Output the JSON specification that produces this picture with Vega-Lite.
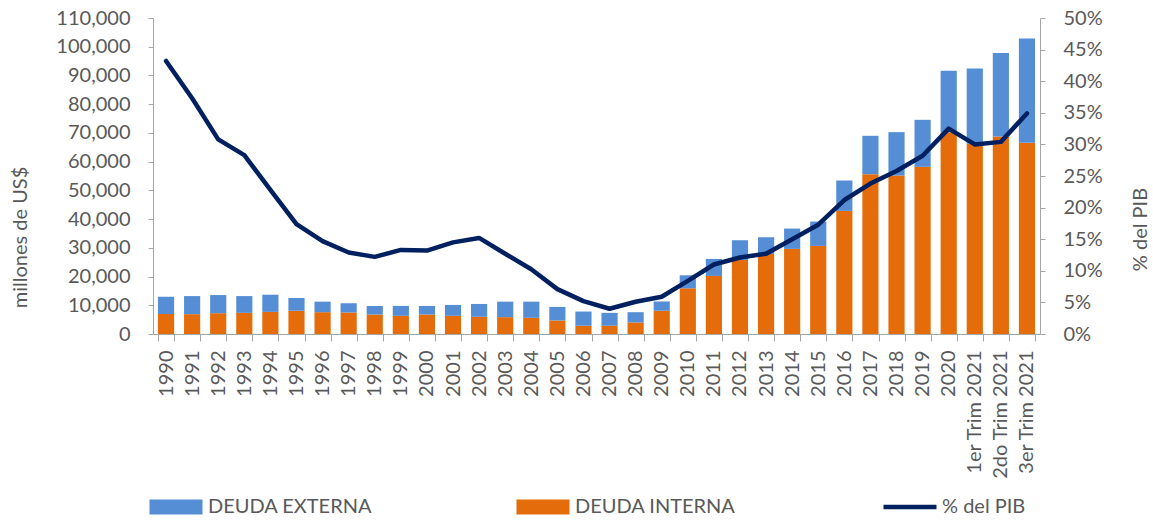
{
  "$schema": "https://vega.github.io/schema/vega-lite/v6.json",
  "width": 887,
  "height": 316,
  "autosize": {"type": "none"},
  "padding": {"left": 153, "top": 18, "right": 113, "bottom": 187},
  "config": {
    "font": "Lato",
    "view": {"stroke": null},
    "axis": {
      "labelFont": "Lato",
      "titleFont": "Lato",
      "labelColor": "#595959",
      "titleColor": "#595959",
      "labelFontSize": 20,
      "titleFontSize": 20,
      "titleFontWeight": "normal",
      "domainColor": "#A6A6A6",
      "tickColor": "#A6A6A6",
      "grid": false
    }
  },
  "datasets": {
    "deuda": [
      {"periodo": "1990", "serie": "DEUDA INTERNA", "valor": 7000}, {"periodo": "1990", "serie": "DEUDA EXTERNA", "valor": 6000},
      {"periodo": "1991", "serie": "DEUDA INTERNA", "valor": 6900}, {"periodo": "1991", "serie": "DEUDA EXTERNA", "valor": 6300},
      {"periodo": "1992", "serie": "DEUDA INTERNA", "valor": 7240}, {"periodo": "1992", "serie": "DEUDA EXTERNA", "valor": 6320},
      {"periodo": "1993", "serie": "DEUDA INTERNA", "valor": 7360}, {"periodo": "1993", "serie": "DEUDA EXTERNA", "valor": 5840},
      {"periodo": "1994", "serie": "DEUDA INTERNA", "valor": 7700}, {"periodo": "1994", "serie": "DEUDA EXTERNA", "valor": 5980},
      {"periodo": "1995", "serie": "DEUDA INTERNA", "valor": 8050}, {"periodo": "1995", "serie": "DEUDA EXTERNA", "valor": 4480},
      {"periodo": "1996", "serie": "DEUDA INTERNA", "valor": 7590}, {"periodo": "1996", "serie": "DEUDA EXTERNA", "valor": 3670},
      {"periodo": "1997", "serie": "DEUDA INTERNA", "valor": 7470}, {"periodo": "1997", "serie": "DEUDA EXTERNA", "valor": 3220},
      {"periodo": "1998", "serie": "DEUDA INTERNA", "valor": 6780}, {"periodo": "1998", "serie": "DEUDA EXTERNA", "valor": 2990},
      {"periodo": "1999", "serie": "DEUDA INTERNA", "valor": 6320}, {"periodo": "1999", "serie": "DEUDA EXTERNA", "valor": 3450},
      {"periodo": "2000", "serie": "DEUDA INTERNA", "valor": 6780}, {"periodo": "2000", "serie": "DEUDA EXTERNA", "valor": 2990},
      {"periodo": "2001", "serie": "DEUDA INTERNA", "valor": 6320}, {"periodo": "2001", "serie": "DEUDA EXTERNA", "valor": 3790},
      {"periodo": "2002", "serie": "DEUDA INTERNA", "valor": 5980}, {"periodo": "2002", "serie": "DEUDA EXTERNA", "valor": 4480},
      {"periodo": "2003", "serie": "DEUDA INTERNA", "valor": 5860}, {"periodo": "2003", "serie": "DEUDA EXTERNA", "valor": 5400},
      {"periodo": "2004", "serie": "DEUDA INTERNA", "valor": 5630}, {"periodo": "2004", "serie": "DEUDA EXTERNA", "valor": 5630},
      {"periodo": "2005", "serie": "DEUDA INTERNA", "valor": 4710}, {"periodo": "2005", "serie": "DEUDA EXTERNA", "valor": 4720},
      {"periodo": "2006", "serie": "DEUDA INTERNA", "valor": 2870}, {"periodo": "2006", "serie": "DEUDA EXTERNA", "valor": 4950},
      {"periodo": "2007", "serie": "DEUDA INTERNA", "valor": 2870}, {"periodo": "2007", "serie": "DEUDA EXTERNA", "valor": 4490},
      {"periodo": "2008", "serie": "DEUDA INTERNA", "valor": 4020}, {"periodo": "2008", "serie": "DEUDA EXTERNA", "valor": 3570},
      {"periodo": "2009", "serie": "DEUDA INTERNA", "valor": 8130}, {"periodo": "2009", "serie": "DEUDA EXTERNA", "valor": 3140},
      {"periodo": "2010", "serie": "DEUDA INTERNA", "valor": 15910}, {"periodo": "2010", "serie": "DEUDA EXTERNA", "valor": 4530},
      {"periodo": "2011", "serie": "DEUDA INTERNA", "valor": 20210}, {"periodo": "2011", "serie": "DEUDA EXTERNA", "valor": 5920},
      {"periodo": "2012", "serie": "DEUDA INTERNA", "valor": 25780}, {"periodo": "2012", "serie": "DEUDA EXTERNA", "valor": 6860},
      {"periodo": "2013", "serie": "DEUDA INTERNA", "valor": 27870}, {"periodo": "2013", "serie": "DEUDA EXTERNA", "valor": 5810},
      {"periodo": "2014", "serie": "DEUDA INTERNA", "valor": 29620}, {"periodo": "2014", "serie": "DEUDA EXTERNA", "valor": 7080},
      {"periodo": "2015", "serie": "DEUDA INTERNA", "valor": 30660}, {"periodo": "2015", "serie": "DEUDA EXTERNA", "valor": 8480},
      {"periodo": "2016", "serie": "DEUDA INTERNA", "valor": 42860}, {"periodo": "2016", "serie": "DEUDA EXTERNA", "valor": 10570},
      {"periodo": "2017", "serie": "DEUDA INTERNA", "valor": 55630}, {"periodo": "2017", "serie": "DEUDA EXTERNA", "valor": 13360},
      {"periodo": "2018", "serie": "DEUDA INTERNA", "valor": 55170}, {"periodo": "2018", "serie": "DEUDA EXTERNA", "valor": 15100},
      {"periodo": "2019", "serie": "DEUDA INTERNA", "valor": 58190}, {"periodo": "2019", "serie": "DEUDA EXTERNA", "valor": 16370},
      {"periodo": "2020", "serie": "DEUDA INTERNA", "valor": 70270}, {"periodo": "2020", "serie": "DEUDA EXTERNA", "valor": 21370},
      {"periodo": "1er Trim 2021", "serie": "DEUDA INTERNA", "valor": 66200}, {"periodo": "1er Trim 2021", "serie": "DEUDA EXTERNA", "valor": 26250},
      {"periodo": "2do Trim 2021", "serie": "DEUDA INTERNA", "valor": 68760}, {"periodo": "2do Trim 2021", "serie": "DEUDA EXTERNA", "valor": 29030},
      {"periodo": "3er Trim 2021", "serie": "DEUDA INTERNA", "valor": 66550}, {"periodo": "3er Trim 2021", "serie": "DEUDA EXTERNA", "valor": 36350}
    ],
    "pib": [
      {"periodo": "1990", "pct": 0.432}, {"periodo": "1991", "pct": 0.373}, {"periodo": "1992", "pct": 0.308},
      {"periodo": "1993", "pct": 0.283}, {"periodo": "1994", "pct": 0.228}, {"periodo": "1995", "pct": 0.174},
      {"periodo": "1996", "pct": 0.147}, {"periodo": "1997", "pct": 0.129}, {"periodo": "1998", "pct": 0.122},
      {"periodo": "1999", "pct": 0.133}, {"periodo": "2000", "pct": 0.132}, {"periodo": "2001", "pct": 0.145},
      {"periodo": "2002", "pct": 0.152}, {"periodo": "2003", "pct": 0.127}, {"periodo": "2004", "pct": 0.1025},
      {"periodo": "2005", "pct": 0.071}, {"periodo": "2006", "pct": 0.052}, {"periodo": "2007", "pct": 0.040},
      {"periodo": "2008", "pct": 0.051}, {"periodo": "2009", "pct": 0.059}, {"periodo": "2010", "pct": 0.084},
      {"periodo": "2011", "pct": 0.110}, {"periodo": "2012", "pct": 0.121}, {"periodo": "2013", "pct": 0.127},
      {"periodo": "2014", "pct": 0.150}, {"periodo": "2015", "pct": 0.173}, {"periodo": "2016", "pct": 0.212},
      {"periodo": "2017", "pct": 0.238}, {"periodo": "2018", "pct": 0.258}, {"periodo": "2019", "pct": 0.282},
      {"periodo": "2020", "pct": 0.325}, {"periodo": "1er Trim 2021", "pct": 0.300}, {"periodo": "2do Trim 2021", "pct": 0.304},
      {"periodo": "3er Trim 2021", "pct": 0.349}
    ]
  },
  "encoding": {
    "x": {
      "field": "periodo",
      "type": "nominal",
      "sort": null,
      "scale": {"paddingInner": 0.38, "paddingOuter": 0.19},
      "axis": {
        "title": null,
        "labelAngle": -90,
        "tickBand": "extent",
        "tickSize": 7,
        "labelPadding": 9
      }
    }
  },
  "layer": [
    {
      "data": {"name": "deuda"},
      "mark": {"type": "bar"},
      "encoding": {
        "y": {
          "field": "valor",
          "type": "quantitative",
          "stack": "zero",
          "scale": {"domain": [0, 110000], "nice": false},
          "axis": {
            "orient": "left",
            "values": [0, 10000, 20000, 30000, 40000, 50000, 60000, 70000, 80000, 90000, 100000, 110000],
            "format": ",.0f",
            "tickSize": 5,
            "labelPadding": 18,
            "title": "millones de US$",
            "titleAngle": -90,
            "titleX": -133,
            "titleY": 219,
            "titleAlign": "center",
            "titleBaseline": "middle"
          }
        },
        "order": {"field": "serie", "sort": "descending"},
        "color": {
          "field": "serie",
          "type": "nominal",
          "scale": {
            "domain": ["DEUDA EXTERNA", "DEUDA INTERNA", "% del PIB"],
            "range": ["#558ED5", "#E46C0A", "#002060"]
          },
          "legend": {
            "orient": "none",
            "legendX": 13,
            "legendY": 479,
            "direction": "horizontal",
            "columns": 3,
            "gridAlign": "all",
            "columnPadding": 134,
            "title": null,
            "labelFont": "Lato",
            "labelFontSize": 20,
            "labelColor": "#595959",
            "labelOffset": 22,
            "labelLimit": 400,
            "symbolSize": 2809,
            "encode": {
              "symbols": {
                "update": {
                  "shape": {"signal": "datum.value === '% del PIB' ? 'stroke' : 'M-1,-0.283L1,-0.283L1,0.283L-1,0.283Z'"},
                  "size": {"value": 2809},
                  "fill": {"signal": "datum.value === 'DEUDA EXTERNA' ? '#558ED5' : datum.value === 'DEUDA INTERNA' ? '#E46C0A' : 'transparent'"},
                  "stroke": {"signal": "datum.value === '% del PIB' ? '#002060' : 'transparent'"},
                  "strokeWidth": {"signal": "datum.value === '% del PIB' ? 4.5 : 0"},
                  "opacity": {"value": 1},
                  "fillOpacity": {"value": 1}
                }
              }
            }
          }
        }
      }
    },
    {
      "data": {"name": "pib"},
      "mark": {"type": "line", "strokeWidth": 4.5, "strokeJoin": "round", "strokeCap": "round"},
      "encoding": {
        "y": {
          "field": "pct",
          "type": "quantitative",
          "scale": {"domain": [0, 0.5], "nice": false},
          "axis": {
            "orient": "right",
            "values": [0, 0.05, 0.1, 0.15, 0.2, 0.25, 0.3, 0.35, 0.4, 0.45, 0.5],
            "format": ".0%",
            "tickSize": 5,
            "labelPadding": 18,
            "title": "% del PIB",
            "titleAngle": -90,
            "titleX": 100,
            "titleY": 211,
            "titleAlign": "center",
            "titleBaseline": "middle"
          }
        },
        "color": {"datum": "% del PIB", "type": "nominal"}
      }
    }
  ],
  "resolve": {"scale": {"y": "independent"}}
}
